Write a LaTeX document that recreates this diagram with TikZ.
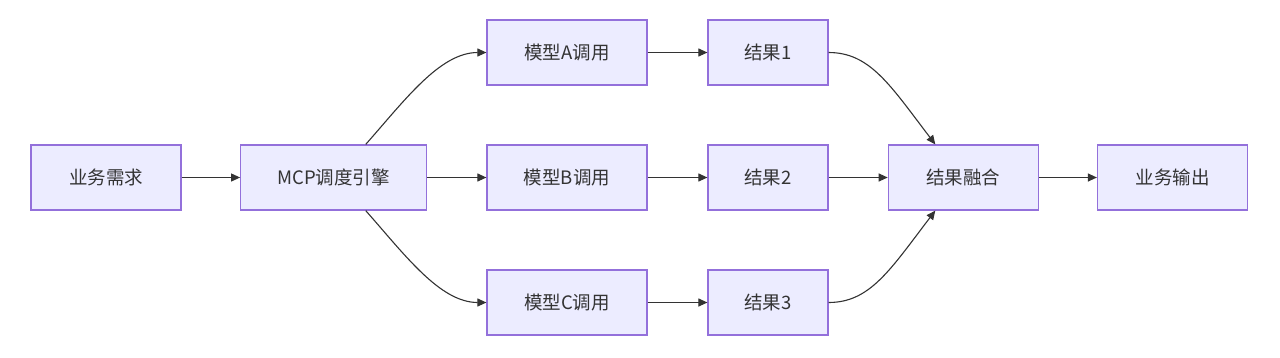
\documentclass[tikz,border=0pt]{standalone}
\usepackage{fontspec}
\setmainfont{Noto Sans CJK SC}
\usetikzlibrary{arrows.meta}
\definecolor{boxfill}{HTML}{ECECFF}
\definecolor{boxline}{HTML}{9370DB}
\definecolor{edge}{HTML}{333333}
\begin{document}
\begin{tikzpicture}[x=1pt,y=-1pt,
  box/.style={draw=boxline,fill=boxfill,line width=1.2pt,minimum height=65pt,inner sep=0pt,text=edge,font=\fontsize{18.5}{22}\selectfont},
  conn/.style={draw=edge,line width=1.1pt,-{Triangle[length=9pt,width=8pt]}}]
\useasboundingbox (0,0) rectangle (1280,357);
\node[box,minimum width=150pt] (req) at (106,177.5) {业务需求};
\node[box,minimum width=186pt] (mcp) at (333.7,177.5) {MCP调度引擎};
\node[box,minimum width=160pt] (ma) at (567,52.5) {模型A调用};
\node[box,minimum width=160pt] (mb) at (567,177.5) {模型B调用};
\node[box,minimum width=160pt] (mc) at (567,302.5) {模型C调用};
\node[box,minimum width=120pt] (r1) at (768,52.5) {结果1};
\node[box,minimum width=120pt] (r2) at (768,177.5) {结果2};
\node[box,minimum width=120pt] (r3) at (768,302.5) {结果3};
\node[box,minimum width=150pt] (fuse) at (963.3,177.5) {结果融合};
\node[box,minimum width=150pt] (out) at (1172.5,177.5) {业务输出};
\draw[conn] (req) -- (mcp);
\draw[conn] (mcp) -- (mb);
\draw[conn] (mcp.north) ++(32,0) coordinate (mt) (mt) .. controls (405,100) and (440,52.5) .. (ma.west);
\draw[conn] (mcp.south) ++(32,0) coordinate (mbt) (mbt) .. controls (405,255) and (440,302.5) .. (mc.west);
\draw[conn] (ma) -- (r1);
\draw[conn] (mb) -- (r2);
\draw[conn] (mc) -- (r3);
\draw[conn] (r1.east) .. controls (870,52.5) and (890,85) .. ([xshift=-28pt]fuse.north);
\draw[conn] (r3.east) .. controls (870,302.5) and (890,270) .. ([xshift=-28pt]fuse.south);
\draw[conn] (r2) -- (fuse);
\draw[conn] (fuse) -- (out);
\end{tikzpicture}
\end{document}
